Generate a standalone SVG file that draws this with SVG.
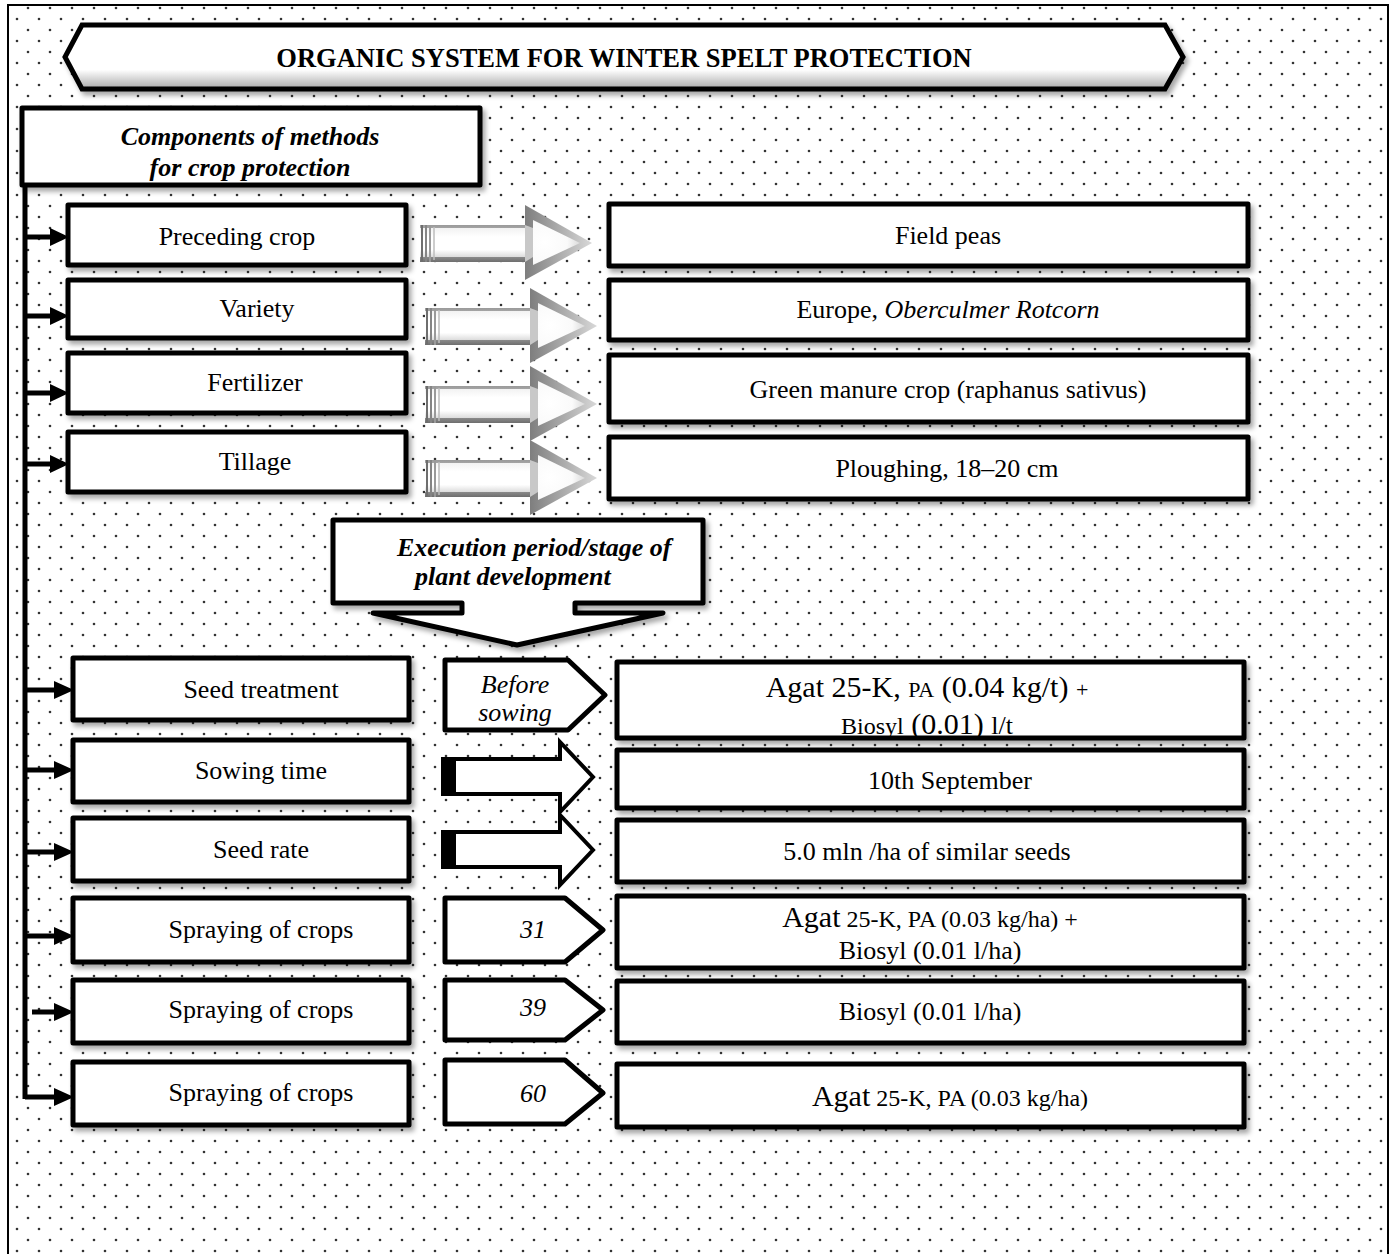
<svg xmlns="http://www.w3.org/2000/svg" width="1395" height="1254" viewBox="0 0 1395 1254">
<style>
text{font-family:"Liberation Serif","Times New Roman",serif;fill:#000}
.lbl{font-size:26px;text-anchor:middle}
.bi{font-weight:bold;font-style:italic;font-size:26px}
.it{font-style:italic;font-size:26px;text-anchor:middle}
.box{fill:#fff;stroke:#000;stroke-width:5;stroke-linejoin:round}
.pent{fill:#fff;stroke:#000;stroke-width:5;stroke-linejoin:round}
.conn{stroke:#000;stroke-width:5;fill:none}
.head{fill:#000}
</style>
<defs>
<pattern id="dots" width="22" height="22" patternUnits="userSpaceOnUse">
<rect width="22" height="22" fill="#fff"/>
<circle cx="6" cy="8" r="1.3" fill="#333"/>
<circle cx="17" cy="19" r="1.3" fill="#333"/>
</pattern>
<filter id="sh" x="-5%" y="-10%" width="115%" height="140%">
<feDropShadow dx="3" dy="4" stdDeviation="2.5" flood-color="#000" flood-opacity="0.35"/>
</filter>
<linearGradient id="bannerG" x1="0" y1="0" x2="0" y2="1">
<stop offset="0" stop-color="#fff"/>
<stop offset="0.7" stop-color="#fff"/>
<stop offset="1" stop-color="#a8a8a8"/>
</linearGradient>
<linearGradient id="shaftOut" x1="0" y1="0" x2="0" y2="1">
<stop offset="0" stop-color="#9a9a9a"/>
<stop offset="0.5" stop-color="#d8d8d8"/>
<stop offset="1" stop-color="#6e6e6e"/>
</linearGradient>
<linearGradient id="shaftIn" x1="0" y1="0" x2="0" y2="1">
<stop offset="0" stop-color="#f2f2f2"/>
<stop offset="0.3" stop-color="#fff"/>
<stop offset="0.75" stop-color="#fff"/>
<stop offset="1" stop-color="#dcdcdc"/>
</linearGradient>
<linearGradient id="headOut" x1="0" y1="0" x2="1" y2="0">
<stop offset="0" stop-color="#7e7e7e"/>
<stop offset="0.6" stop-color="#b4b4b4"/>
<stop offset="1" stop-color="#d8d8d8"/>
</linearGradient>
<radialGradient id="headIn" cx="0.25" cy="0.5" r="0.8">
<stop offset="0" stop-color="#fff"/>
<stop offset="0.6" stop-color="#fafafa"/>
<stop offset="1" stop-color="#d4d4d4"/>
</radialGradient>
<g id="garrow">
<polygon points="0,20 108,20 108,57 0,57" fill="url(#shaftOut)"/>
<polygon points="0,23 108,23 108,52 0,52" fill="url(#shaftIn)"/>
<polygon points="105,0 172,38 105,75" fill="url(#headOut)"/>
<polygon points="113,15 160,38 113,60" fill="url(#headIn)"/>
<polygon points="105,20 113,23 113,52 105,57" fill="#c8c8c8"/>
<line x1="2" y1="20" x2="2" y2="57" stroke="#6e6e6e" stroke-width="2"/>
<line x1="6" y1="20" x2="6" y2="57" stroke="#858585" stroke-width="2"/>
<line x1="10" y1="20" x2="10" y2="57" stroke="#9a9a9a" stroke-width="2"/>
<line x1="14" y1="22" x2="14" y2="55" stroke="#bdbdbd" stroke-width="1.5"/>
</g>
<g id="barrow">
<polygon points="0,17 117,17 117,0 150,35 117,70 117,52 0,52" fill="#fff" stroke="#000" stroke-width="4"/>
<rect x="0" y="17" width="13" height="35" fill="#000"/>
</g>
</defs>

<rect x="8" y="5" width="1380" height="1260" fill="url(#dots)" stroke="#000" stroke-width="2"/>

<g id="title">
<polygon points="82,25 1165,25 1183,57 1165,89 82,89 65,57" fill="url(#bannerG)" stroke="#000" stroke-width="5" stroke-linejoin="miter" filter="url(#sh)"/>
<text x="624" y="67" text-anchor="middle" font-size="26.5" font-weight="bold">ORGANIC SYSTEM FOR WINTER SPELT PROTECTION</text>
</g>

<g id="connectors">
<line class="conn" x1="25" y1="185" x2="25" y2="1099"/>
<line class="conn" x1="25" y1="237" x2="52" y2="237"/><polygon class="head" points="50,228 69,237 50,246"/>
<line class="conn" x1="25" y1="316" x2="52" y2="316"/><polygon class="head" points="50,307 69,316 50,325"/>
<line class="conn" x1="25" y1="393" x2="52" y2="393"/><polygon class="head" points="50,384 69,393 50,402"/>
<line class="conn" x1="25" y1="464" x2="52" y2="464"/><polygon class="head" points="50,455 69,464 50,473"/>
<line class="conn" x1="25" y1="690" x2="56" y2="690"/><polygon class="head" points="54,681 74,690 54,699"/>
<line class="conn" x1="25" y1="770" x2="56" y2="770"/><polygon class="head" points="54,761 74,770 54,779"/>
<line class="conn" x1="25" y1="852" x2="56" y2="852"/><polygon class="head" points="54,843 74,852 54,861"/>
<line class="conn" x1="25" y1="936" x2="56" y2="936"/><polygon class="head" points="54,927 74,936 54,945"/>
<line class="conn" x1="32" y1="1012" x2="56" y2="1012"/><polygon class="head" points="54,1003 74,1012 54,1021"/>
<line class="conn" x1="25" y1="1097" x2="56" y2="1097"/><polygon class="head" points="54,1088 74,1097 54,1106"/>
<use href="#garrow" x="420" y="205"/>
<use href="#garrow" x="425" y="288"/>
<use href="#garrow" x="425" y="366"/>
<use href="#garrow" x="425" y="440"/>
<use href="#barrow" x="443" y="742"/>
<use href="#barrow" x="443" y="815"/>
</g>

<g id="components">
<rect class="box" x="22" y="108" width="458" height="77" filter="url(#sh)"/>
<text class="bi" x="250" y="145" text-anchor="middle">Components of methods</text>
<text class="bi" x="250" y="176" text-anchor="middle">for crop protection</text>
</g>

<g id="preceding-crop"><rect class="box" x="68" y="205" width="338" height="60" filter="url(#sh)"/><text class="lbl" x="237" y="245">Preceding crop</text></g>
<g id="variety"><rect class="box" x="68" y="280" width="338" height="58" filter="url(#sh)"/><text class="lbl" x="257" y="317">Variety</text></g>
<g id="fertilizer"><rect class="box" x="68" y="353" width="338" height="60" filter="url(#sh)"/><text class="lbl" x="255" y="391">Fertilizer</text></g>
<g id="tillage"><rect class="box" x="68" y="432" width="338" height="60" filter="url(#sh)"/><text class="lbl" x="255" y="470">Tillage</text></g>

<g id="field-peas"><rect class="box" x="609" y="204" width="639" height="62" filter="url(#sh)"/><text class="lbl" x="948" y="244">Field peas</text></g>
<g id="europe"><rect class="box" x="609" y="280" width="639" height="60" filter="url(#sh)"/><text class="lbl" x="948" y="318">Europe, <tspan font-style="italic">Oberculmer Rotcorn</tspan></text></g>
<g id="green-manure"><rect class="box" x="609" y="355" width="639" height="67" filter="url(#sh)"/><text class="lbl" x="948" y="398" font-size="25">Green manure crop (raphanus sativus)</text></g>
<g id="ploughing"><rect class="box" x="609" y="437" width="639" height="62" filter="url(#sh)"/><text class="lbl" x="947" y="477" font-size="25">Ploughing, 18–20 cm</text></g>

<g id="execution-period">
<path d="M333,520 H703 V603 H575 V613 H663 L517,645 L373,613 H462 V603 H333 Z" fill="#fff" stroke="#000" stroke-width="5" stroke-linejoin="round" filter="url(#sh)"/>
<text class="bi" x="397" y="556">Execution period/stage of</text>
<text class="bi" x="415" y="585">plant development</text>
</g>

<g id="seed-treatment"><rect class="box" x="73" y="658" width="336" height="62" filter="url(#sh)"/><text class="lbl" x="261" y="698">Seed treatment</text></g>
<g id="sowing-time"><rect class="box" x="73" y="740" width="336" height="62" filter="url(#sh)"/><text class="lbl" x="261" y="779">Sowing time</text></g>
<g id="seed-rate"><rect class="box" x="73" y="818" width="336" height="63" filter="url(#sh)"/><text class="lbl" x="261" y="858">Seed rate</text></g>
<g id="spraying-1"><rect class="box" x="73" y="898" width="336" height="64" filter="url(#sh)"/><text class="lbl" x="261" y="938">Spraying of crops</text></g>
<g id="spraying-2"><rect class="box" x="73" y="980" width="336" height="63" filter="url(#sh)"/><text class="lbl" x="261" y="1018">Spraying of crops</text></g>
<g id="spraying-3"><rect class="box" x="73" y="1062" width="336" height="63" filter="url(#sh)"/><text class="lbl" x="261" y="1101">Spraying of crops</text></g>

<g id="before-sowing"><polygon class="pent" points="445,660 568,660 605,695 568,730 445,730"/><text class="it" x="515" y="693">Before</text><text class="it" x="515" y="721">sowing</text></g>
<g id="stage-31"><polygon class="pent" points="445,898 565,898 603,930 565,962 445,962"/><text class="it" x="533" y="938">31</text></g>
<g id="stage-39"><polygon class="pent" points="445,980 565,980 603,1010 565,1040 445,1040"/><text class="it" x="533" y="1016">39</text></g>
<g id="stage-60"><polygon class="pent" points="445,1060 565,1060 603,1093 565,1124 445,1124"/><text class="it" x="533" y="1102">60</text></g>

<g id="agat-seed"><rect class="box" x="617" y="662" width="627" height="76" filter="url(#sh)"/>
<text x="927" y="697" text-anchor="middle" font-size="30">Agat 25-K, <tspan font-size="22">PA</tspan> (0.04 kg/t) <tspan font-size="22">+</tspan></text>
<text x="927" y="734" text-anchor="middle" font-size="30"><tspan font-size="24">Biosyl</tspan> (0.01) <tspan font-size="26">l/t</tspan></text>
</g>
<g id="september"><rect class="box" x="617" y="750" width="627" height="58" filter="url(#sh)"/><text class="lbl" x="950" y="789" font-size="28">10th September</text></g>
<g id="seed-rate-value"><rect class="box" x="617" y="820" width="627" height="62" filter="url(#sh)"/><text class="lbl" x="927" y="860" font-size="25">5.0 mln /ha of similar seeds</text></g>
<g id="agat-biosyl-31"><rect class="box" x="617" y="896" width="627" height="72" filter="url(#sh)"/>
<text x="930" y="927" text-anchor="middle" font-size="24"><tspan font-size="30">Agat</tspan> 25-K, PA (0.03 kg/ha) +</text>
<text class="lbl" x="930" y="959" font-size="25">Biosyl (0.01 l/ha)</text>
</g>
<g id="biosyl-39"><rect class="box" x="617" y="981" width="627" height="62" filter="url(#sh)"/><text class="lbl" x="930" y="1020">Biosyl (0.01 l/ha)</text></g>
<g id="agat-60"><rect class="box" x="617" y="1064" width="627" height="63" filter="url(#sh)"/><text x="950" y="1106" text-anchor="middle" font-size="24"><tspan font-size="30">Agat</tspan> 25-K, PA (0.03 kg/ha)</text></g>
</svg>
